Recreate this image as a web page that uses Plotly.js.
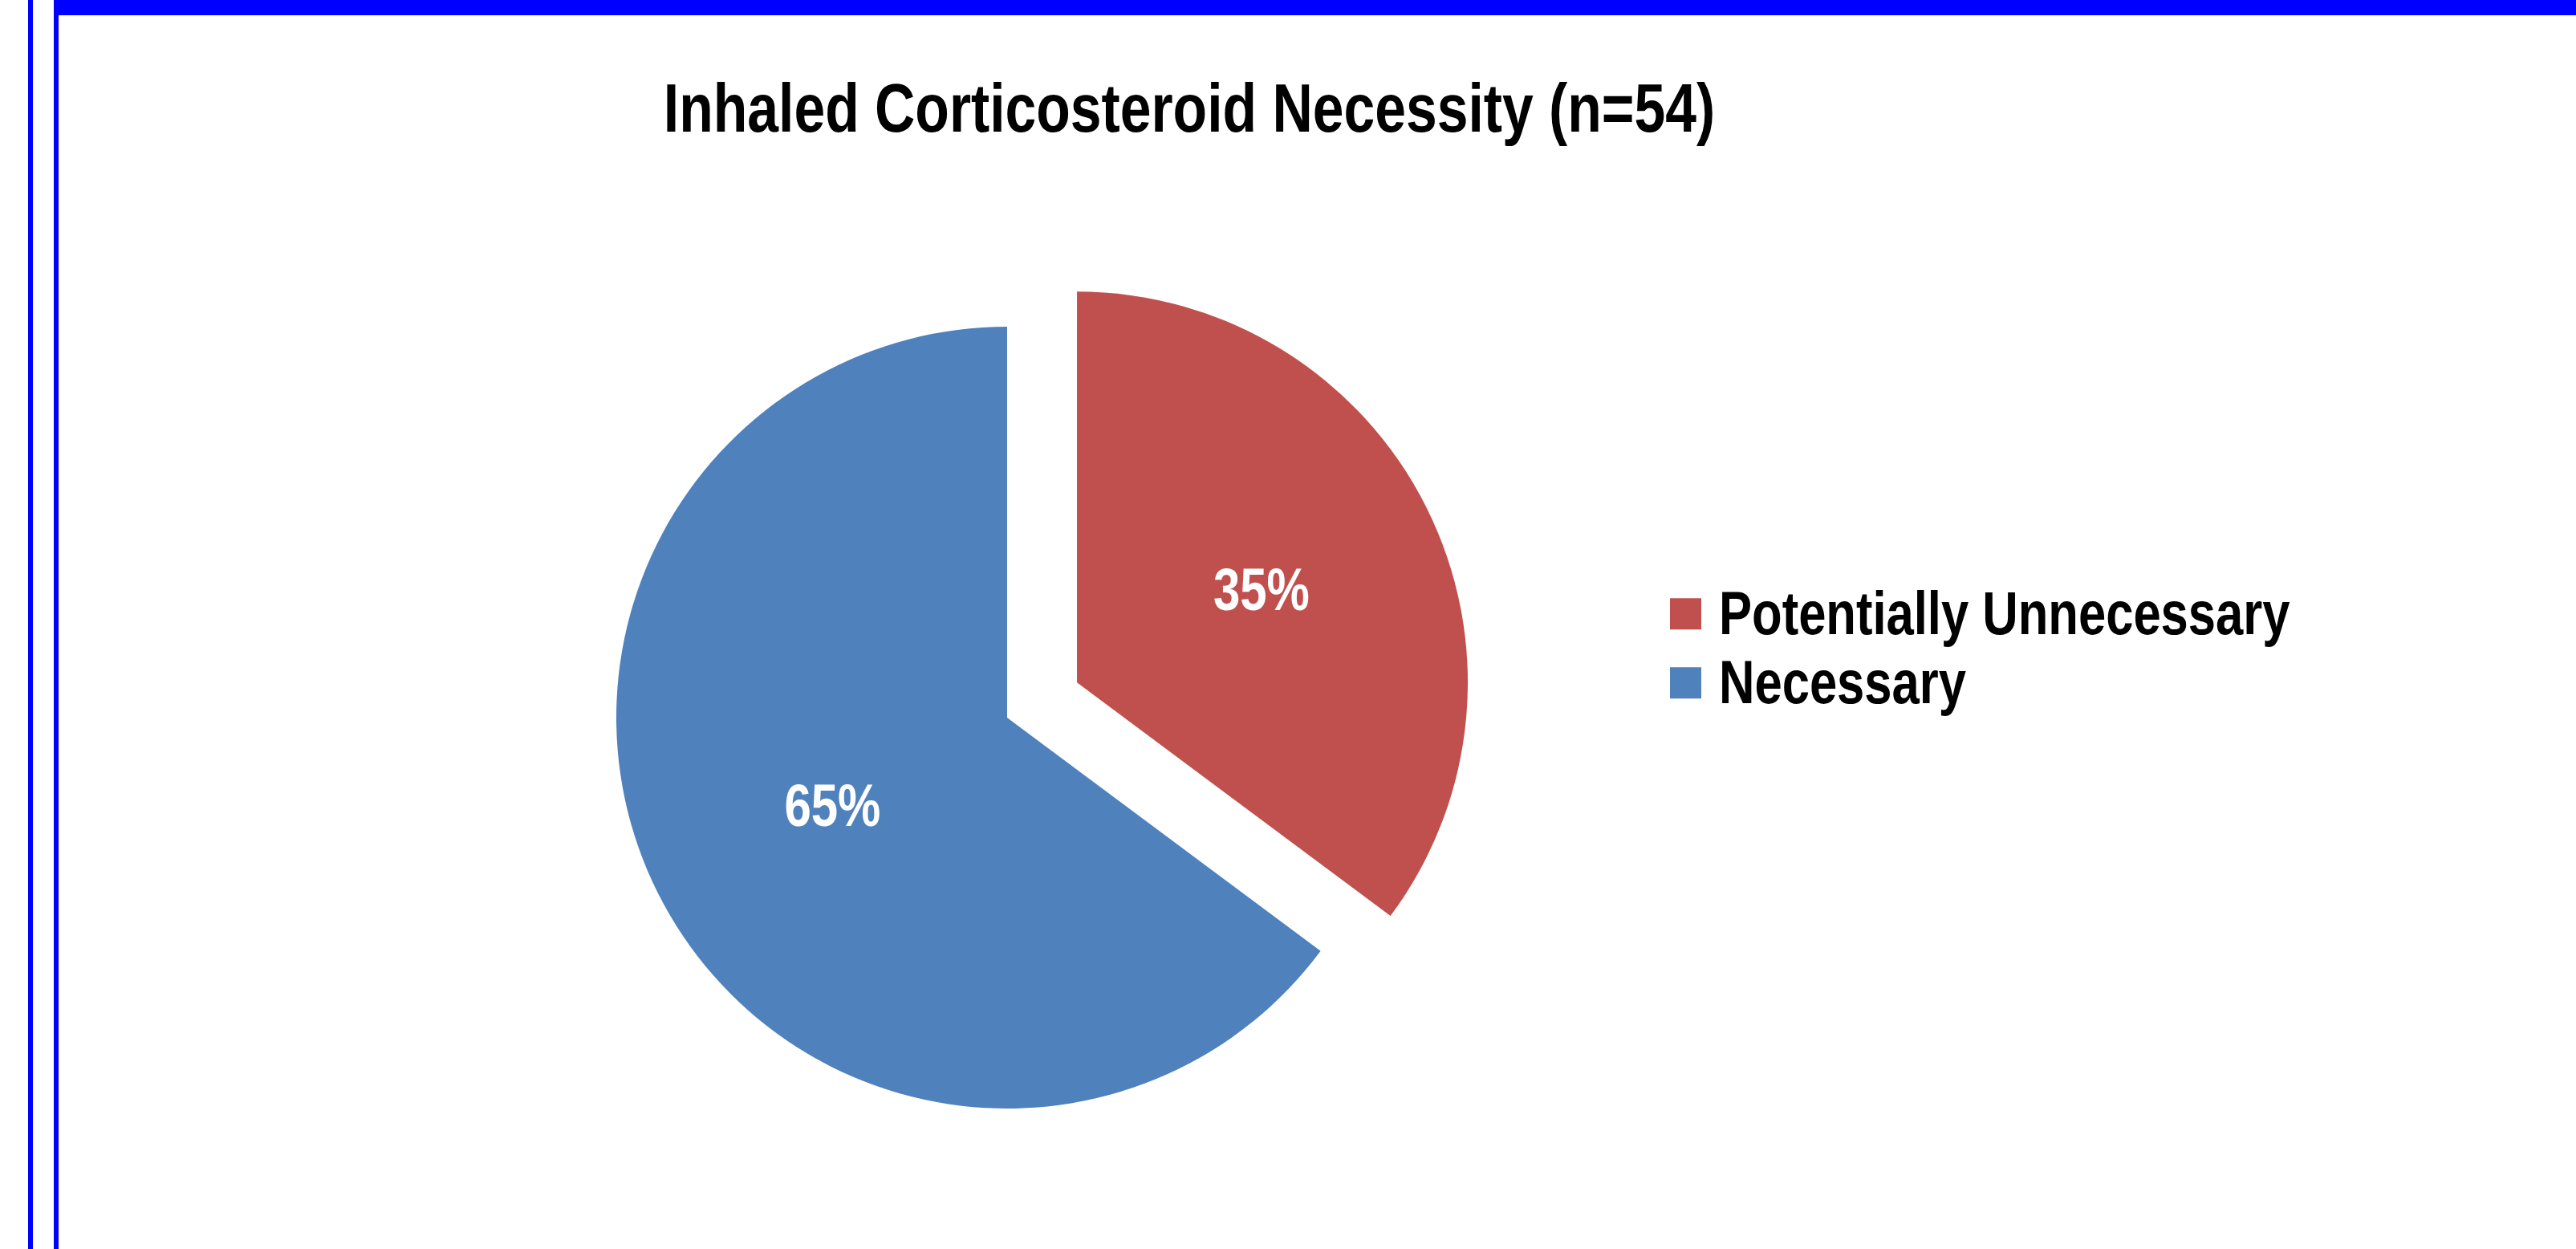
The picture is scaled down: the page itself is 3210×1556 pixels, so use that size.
<!DOCTYPE html>
<html>
<head>
<meta charset="utf-8">
<script src="https://cdn.plot.ly/plotly-3.0.1.min.js"></script>
<style>
html,body{margin:0;padding:0;background:#ffffff;overflow:hidden}
#chart{width:3210px;height:1556px}
</style>
</head>
<body>
<div id="chart"></div>
<script>
// ---- data ----
const chartTitle = 'Inhaled Corticosteroid Necessity (n=54)';
const categories = ['Potentially Unnecessary', 'Necessary'];
const counts = [19, 35];   // 35% / 65% of n = 54

// ---- styling ----
const FONT = '"Liberation Sans", Arial, Helvetica, sans-serif';
const NARROW = 0.81;   // Arial Narrow look: horizontally condensed Arial Bold
const LEGEND_ROW = 86; // legend line pitch of the original
const W = 3210, H = 1556;
const px = v => v / W;
const py = v => 1 - v / H;

const trace = {
  type: 'pie',
  labels: categories,
  values: counts,
  sort: false,
  direction: 'clockwise',
  rotation: 0,
  pull: [0.2, 0],
  marker: { colors: ['#C0504D', '#4F81BD'], line: { width: 0 } },
  texttemplate: '%{percent:.0%}',
  textposition: 'inside',
  insidetextorientation: 'horizontal',
  textfont: { family: FONT, size: 74, color: '#ffffff', weight: 700 },
  hoverinfo: 'none',
  domain: { x: [px(670.6), px(1839.4)], y: [(662 - 584.4) / H, (662 + 584.4) / H] }
};

const blue = '#0000FF';
const layout = {
  width: W, height: H,
  margin: { l: 0, r: 0, t: 0, b: 0, pad: 0 },
  paper_bgcolor: '#ffffff',
  plot_bgcolor: '#ffffff',
  font: { family: FONT, color: '#000000' },
  title: {
    text: chartTitle,
    font: { family: FONT, size: 86, color: '#000000', weight: 700 },
    x: px(1482), xanchor: 'center', xref: 'paper',
    y: py(134), yanchor: 'middle', yref: 'container'
  },
  showlegend: true,
  legend: {
    x: px(2080), xanchor: 'left',
    y: py(804), yanchor: 'middle',
    itemwidth: 52,
    font: { family: FONT, size: 76, color: '#000000', weight: 700 },
    bgcolor: 'rgba(0,0,0,0)', borderwidth: 0,
    traceorder: 'normal'
  },
  shapes: [
    { type: 'rect', xref: 'paper', yref: 'paper', x0: px(35), x1: px(41), y0: 0, y1: 1, fillcolor: blue, line: { width: 0 }, layer: 'above' },
    { type: 'rect', xref: 'paper', yref: 'paper', x0: px(67), x1: px(73), y0: 0, y1: 1, fillcolor: blue, line: { width: 0 }, layer: 'above' },
    { type: 'rect', xref: 'paper', yref: 'paper', x0: px(67), x1: 1, y0: py(19), y1: 1, fillcolor: blue, line: { width: 0 }, layer: 'above' }
  ]
};

function condense(el) {
  const x = parseFloat(el.getAttribute('x')) || 0;
  const t = el.getAttribute('transform') || '';
  el.setAttribute('transform', (t + ' translate(' + x + ',0) scale(' + NARROW + ',1) translate(' + (-x) + ',0)').trim());
}

function tightenLegend(gd) {
  const items = Array.from(gd.querySelectorAll('.legend .traces'));
  const pos = items.map(g => {
    const m = /translate\(\s*([-\d.e]+)[ ,]+([-\d.e]+)\s*\)/.exec(g.getAttribute('transform') || '');
    return m ? [parseFloat(m[1]), parseFloat(m[2])] : null;
  });
  if (pos.some(p => !p) || pos.length < 2) return;
  const mid = (pos[0][1] + pos[pos.length - 1][1]) / 2;
  const start = mid - LEGEND_ROW * (pos.length - 1) / 2;
  items.forEach((g, i) => g.setAttribute('transform', 'translate(' + pos[i][0] + ',' + (start + i * LEGEND_ROW) + ')'));
}

Plotly.newPlot('chart', [trace], layout, { staticPlot: true, displayModeBar: false }).then(gd => {
  // larger legend swatches, as in the original
  gd.querySelectorAll('.legend .legendpoints path').forEach(p => {
    p.setAttribute('transform', 'translate(20.5,4) scale(3.25)');
  });
  tightenLegend(gd);
  gd.querySelectorAll('text.gtitle, text.legendtext, text.slicetext').forEach(condense);
});
</script>
</body>
</html>
